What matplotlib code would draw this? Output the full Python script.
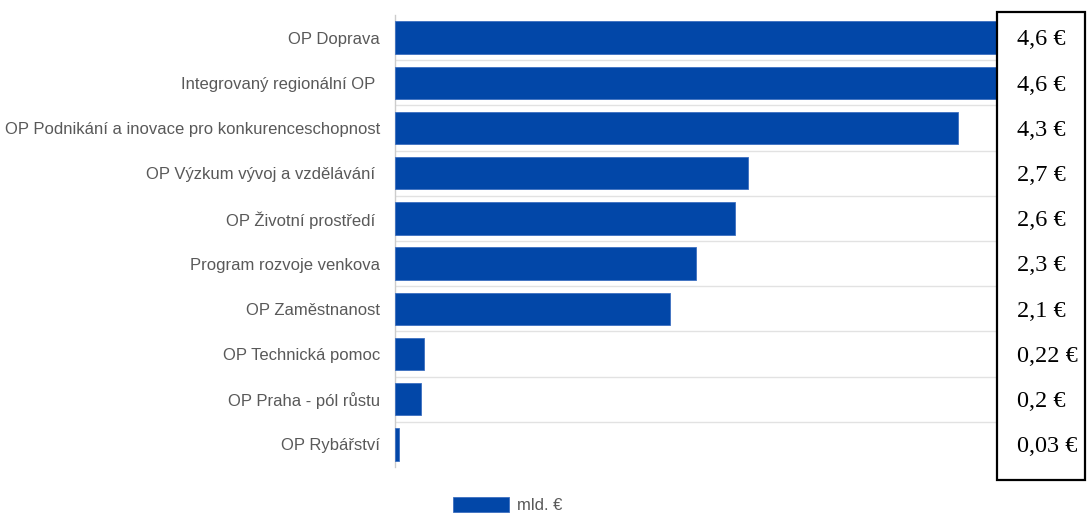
import matplotlib
matplotlib.use("Agg")
import matplotlib.pyplot as plt
from matplotlib.patches import Rectangle, Patch
from matplotlib.transforms import blended_transform_factory

categories = [
    "OP Doprava",
    "Integrovaný regionální OP ",
    "OP Podnikání a inovace pro konkurenceschopnost",
    "OP Výzkum vývoj a vzdělávání ",
    "OP Životní prostředí ",
    "Program rozvoje venkova",
    "OP Zaměstnanost",
    "OP Technická pomoc",
    "OP Praha - pól růstu",
    "OP Rybářství",
]
values = [4.6, 4.6, 4.3, 2.7, 2.6, 2.3, 2.1, 0.22, 0.2, 0.03]
series_name = "mld. €"
value_labels = [f"{v:g}".replace(".", ",") + " €" for v in values]

BAR = "#0247a8"
W, H = 1087, 515
fig = plt.figure(figsize=(W / 100, H / 100), dpi=100)
ax = fig.add_axes([395 / W, 1 - 467 / H, (997 - 395) / W, (467 - 15) / H])

n = len(categories)
ypos = list(range(n))
ax.barh(ypos, values, height=0.72, color=BAR, edgecolor="#3d6fc0", linewidth=0.6, zorder=3)
ax.set_xlim(0, 4.6)
ax.set_ylim(n - 0.5, -0.5)
ax.set_yticks(ypos)
ax.set_yticklabels(categories, fontsize=12, color="#595959", family=["Liberation Sans", "DejaVu Sans"])
ax.tick_params(axis="y", length=0, pad=10.8)
ax.set_xticks([])
for k in range(1, n):
    ax.axhline(k - 0.5, color="#e2e2e2", linewidth=1, zorder=1)
for s in ["top", "right", "bottom"]:
    ax.spines[s].set_visible(False)
ax.spines["left"].set_color("#cccccc")
ax.spines["left"].set_linewidth(1)

# value box on the right
box = Rectangle((997 / W, 1 - 480 / H), (1085 - 997) / W, (480 - 12) / H,
                transform=fig.transFigure, facecolor="white", edgecolor="black",
                linewidth=1.6, zorder=10)
fig.add_artist(box)
tr = blended_transform_factory(fig.transFigure, ax.transData)
for i, lab in enumerate(value_labels):
    fig.text(1017 / W, i + 0.05, lab, transform=tr, ha="left", va="center",
             fontsize=17.5, family=["Liberation Serif", "DejaVu Serif"], color="black", zorder=11)

leg = fig.legend(handles=[Patch(facecolor=BAR, edgecolor="#3d6fc0", linewidth=0.6)],
                 labels=[series_name], loc="upper left",
                 bbox_to_anchor=(453 / W, 1 - 497 / H), frameon=False,
                 borderpad=0, borderaxespad=0,
                 handlelength=3.35, handleheight=1.0, handletextpad=0.48,
                 prop={"family": ["Liberation Sans", "DejaVu Sans"], "size": 12})
for t in leg.get_texts():
    t.set_color("#595959")

fig.savefig("out.png", dpi=100)
